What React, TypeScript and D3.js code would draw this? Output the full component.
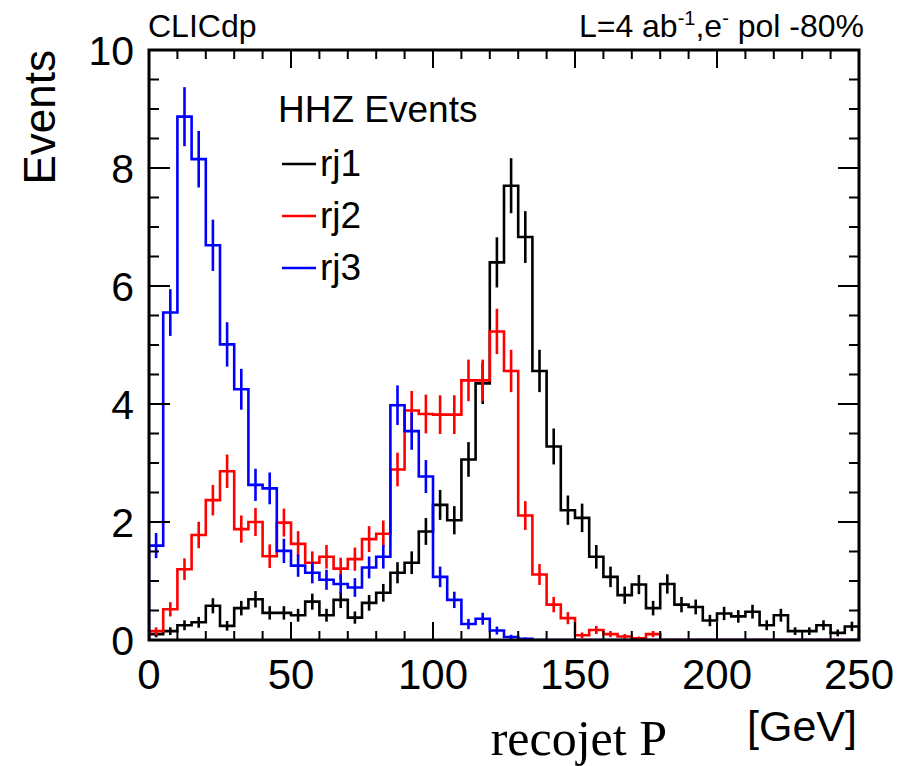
import React from "react";
import * as d3 from "d3";

const binEdgesStart = 0;
const binWidth = 5;
const rj1 = [0.1,0.15,0.25,0.3,0.58,0.24,0.54,0.69,0.46,0.46,0.42,0.65,0.42,0.68,0.38,0.63,0.8,1.14,1.31,1.84,2.29,2.03,3.06,4.35,6.4,7.7,6.83,4.56,3.28,2.2,2.07,1.41,1.07,0.76,0.94,0.54,0.95,0.6,0.56,0.33,0.45,0.4,0.48,0.25,0.42,0.15,0.15,0.25,0.12,0.23];
const rj2 = [0.15,0.52,1.2,1.78,2.37,2.86,1.88,2.0,1.42,1.99,1.63,1.31,1.41,1.21,1.37,1.71,1.8,2.89,3.89,3.83,3.82,3.82,4.4,4.4,5.23,4.56,2.11,1.11,0.6,0.37,0.08,0.17,0.1,0.06,0.03,0.1,0,0,0,0,0,0,0,0,0,0,0,0,0,0];
const rj3 = [1.6,5.55,8.87,8.15,6.69,5.01,4.25,2.63,2.57,1.51,1.26,1.14,1.02,0.95,0.89,1.23,1.41,3.98,3.54,2.77,1.07,0.68,0.27,0.36,0.16,0.05,0.02,0,0,0,0,0,0,0,0,0,0,0,0,0,0,0,0,0,0,0,0,0,0,0];
const errScale = 0.168;
const seriesNames = ["rj1", "rj2", "rj3"];
const seriesColors = ["#000000", "#ff0000", "#0000ff"];
const xTicks = [0, 50, 100, 150, 200, 250];
const yTicks = [0, 2, 4, 6, 8, 10];

const W = 908, H = 766;
const L = 149, R = 859, T = 50, B = 640;
const SANS = "'Liberation Sans', Arial, Helvetica, sans-serif";

export default function App() {
  const x = d3.scaleLinear().domain([0, 250]).range([L, R]);
  const y = d3.scaleLinear().domain([0, 10]).range([B, T]);
  const all = [rj1, rj2, rj3];

  const stepPath = (vals: number[]) => {
    const pts: [number, number][] = [[x(binEdgesStart), y(0)]];
    vals.forEach((v, i) => {
      const x0 = binEdgesStart + i * binWidth;
      pts.push([x(x0), y(v)]);
      pts.push([x(x0 + binWidth), y(v)]);
    });
    pts.push([x(binEdgesStart + vals.length * binWidth), y(0)]);
    return d3.line()(pts) || "";
  };

  const xMinor = d3.range(0, 251, 10);
  const yMinor = d3.range(0, 10.01, 0.5);

  return (
    <svg width={W} height={H} style={{ position: "absolute", left: 0, top: 0, background: "#fff" }}>
      <rect x={0} y={0} width={W} height={H} fill="#fff" />
      <defs>
        <clipPath id="plotclip">
          <rect x={L} y={T} width={R - L} height={B - T} />
        </clipPath>
      </defs>
      <g clipPath="url(#plotclip)">
        {all.map((vals, s) => (
          <g key={s} stroke={seriesColors[s]} strokeWidth={2.6} fill="none">
            <path d={stepPath(vals)} strokeLinejoin="miter" />
            {vals.map((v, i) => {
              if (v <= 0) return null;
              const e = errScale * Math.sqrt(v);
              const cx = x(binEdgesStart + (i + 0.5) * binWidth);
              return <line key={i} x1={cx} x2={cx} y1={y(v + e)} y2={y(Math.max(0, v - e))} />;
            })}
          </g>
        ))}
      </g>
      {/* ticks */}
      <g stroke="#000" strokeWidth={2}>
        {xMinor.map((t) => {
          const major = t % 50 === 0;
          const len = major ? 18 : 9;
          return (
            <g key={"x" + t}>
              <line x1={x(t)} x2={x(t)} y1={B} y2={B - len} />
              <line x1={x(t)} x2={x(t)} y1={T} y2={T + len} />
            </g>
          );
        })}
        {yMinor.map((t) => {
          const major = Math.abs(t % 2) < 1e-6;
          const len = major ? 21 : 10;
          return (
            <g key={"y" + t}>
              <line x1={L} x2={L + len} y1={y(t)} y2={y(t)} />
              <line x1={R} x2={R - len} y1={y(t)} y2={y(t)} />
            </g>
          );
        })}
      </g>
      <rect x={L} y={T} width={R - L} height={B - T} fill="none" stroke="#000" strokeWidth={3} />
      {/* tick labels */}
      <g fontFamily={SANS} fill="#000">
        {xTicks.map((t) => (
          <text key={"xl" + t} x={x(t)} y={689} textAnchor="middle" fontSize={42}>{t}</text>
        ))}
        {yTicks.map((t) => (
          <text key={"yl" + t} x={134} y={y(t) + 15} textAnchor="end" fontSize={41}>{t}</text>
        ))}
      </g>
      <text x={55} y={T} transform={`rotate(-90, 55, ${T})`} textAnchor="end" fontFamily={SANS} fontSize={44}>Events</text>
      <text x={857} y={741} textAnchor="end" fontFamily={SANS} fontSize={43}>[GeV]</text>
      <text x={667} y={755} textAnchor="end" fontFamily="'Liberation Serif', 'Times New Roman', serif" fontSize={50}>recojet P</text>
      <text x={148} y={37} fontFamily={SANS} fontSize={32}>CLICdp</text>
      <text x={864} y={37} textAnchor="end" fontFamily={SANS} fontSize={32}>
        L=4 ab<tspan dy={-12} fontSize={20}>-1</tspan><tspan dy={12}>,e</tspan><tspan dy={-12} fontSize={20}>-</tspan><tspan dy={12}> pol -80%</tspan>
      </text>
      {/* legend */}
      <text x={278} y={122} fontFamily={SANS} fontSize={37}>HHZ Events</text>
      {seriesNames.map((n, i) => {
        const ly = 164 + i * 52;
        return (
          <g key={n}>
            <line x1={282} x2={316} y1={ly} y2={ly} stroke={seriesColors[i]} strokeWidth={2.6} />
            <text x={320} y={ly + 12} fontFamily={SANS} fontSize={37}>{n}</text>
          </g>
        );
      })}
    </svg>
  );
}
